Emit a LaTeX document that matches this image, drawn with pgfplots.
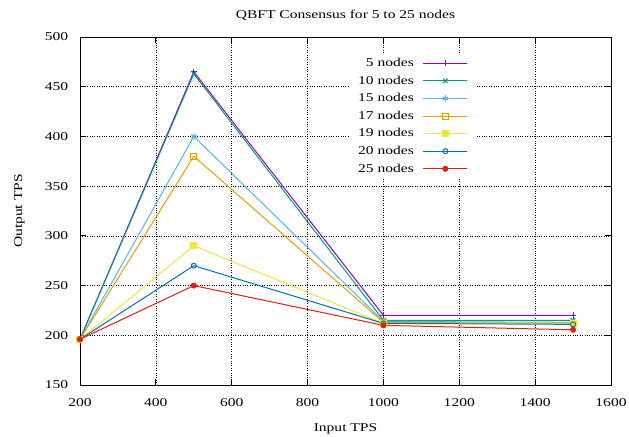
\documentclass[border=0pt]{standalone}
\usepackage{fontspec}
\setmainfont[FakeStretch=1.3]{Liberation Serif}
\usepackage{pgfplots}
\pgfplotsset{compat=1.18}
\definecolor{c1}{HTML}{9400D3}
\definecolor{c2}{HTML}{009E73}
\definecolor{c3}{HTML}{56B4E9}
\definecolor{c4}{HTML}{E69F00}
\definecolor{c5}{HTML}{F0E442}
\definecolor{c6}{HTML}{0072B2}
\definecolor{c7}{HTML}{E51E10}
\begin{document}
\fontsize{12}{14}\selectfont
\begin{tikzpicture}
\useasboundingbox (-80bp,-52bp) rectangle (549bp,385bp);
\begin{axis}[
  at={(0,0)}, anchor=south west,
  scale only axis, width=531bp, height=348bp,
  xmin=200, xmax=1600, ymin=150, ymax=500,
  xtick={200,400,...,1600}, ytick={150,200,...,500},
  /pgf/number format/assume math mode=true,
  /pgf/number format/set thousands separator={},
  tick align=inside, major tick length=6bp,
  axis line style={line width=0.9pt},
  every tick/.style={black, line width=0.9pt},
  xmajorgrids, ymajorgrids,
  grid style={black, dotted, line width=0.7pt},
  xticklabel style={anchor=base, inner sep=0pt, yshift=-21.7bp},
  yticklabel style={anchor=east, inner sep=0pt, xshift=-11.7bp},
  every axis title shift=0pt,
  title={QBFT Consensus for 5 to 25 nodes},
  title style={at={(axis description cs:0.5,1)}, anchor=base, inner sep=0pt, yshift=19bp},
  xlabel={Input TPS},
  xlabel style={at={(axis description cs:0.5,0)}, anchor=base, inner sep=0pt, yshift=-46.7bp},
  ylabel={Output TPS},
  ylabel style={at={(axis description cs:-0.1139,0.5)}, anchor=center, inner sep=0pt},
  legend plot pos=right,
  legend cell align=right,
  legend style={draw=none, fill=white, at={(0.7458,0.954)}, anchor=north east,
    inner xsep=8bp, inner ysep=5bp, row sep=7.5bp, column sep=9bp, nodes={inner sep=0pt}},
  legend image code/.code={\draw[line width=1bp, mark repeat=2, mark phase=2] plot coordinates {(0bp,0bp) (22bp,0bp) (44bp,0bp)};},
]
\addplot[c1, line width=1bp, mark=+, mark size=3.2bp] coordinates {(200,196) (500,465) (1000,220) (1500,220)};
\addlegendentry{5 nodes}
\addplot[c2, line width=1bp, mark=x, mark size=3.2bp] coordinates {(200,196) (500,463) (1000,215) (1500,215)};
\addlegendentry{10 nodes}
\addplot[c3, line width=1bp, mark=asterisk, mark size=3.2bp] coordinates {(200,196) (500,400) (1000,214) (1500,213)};
\addlegendentry{15 nodes}
\addplot[c4, line width=1bp, mark=square, mark size=3bp] coordinates {(200,196) (500,380) (1000,213) (1500,212)};
\addlegendentry{17 nodes}
\addplot[c5, line width=1bp, mark=square*, mark size=3bp] coordinates {(200,196) (500,290) (1000,212) (1500,212)};
\addlegendentry{19 nodes}
\addplot[c6, line width=1bp, mark=o, mark size=2.5bp] coordinates {(200,196) (500,270) (1000,212) (1500,211)};
\addlegendentry{20 nodes}
\addplot[c7, line width=1bp, mark=*, mark size=2.5bp] coordinates {(200,196) (500,250) (1000,210) (1500,205.5)};
\addlegendentry{25 nodes}
\end{axis}
\end{tikzpicture}
\end{document}
